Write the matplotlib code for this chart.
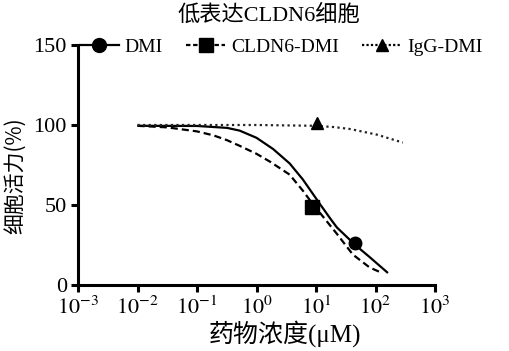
import numpy as np
import matplotlib
matplotlib.use("Agg")
import matplotlib.pyplot as plt

# 讀圖所得的數值 (濃度 µM, 細胞活力 %)
dmi_conc = [0.01, 0.1, 0.32, 0.52, 1.0, 1.9, 3.6, 6.0, 11.7, 17.4, 22.4, 45.7, 79.4, 162]
dmi_fit = [99.5, 99.4, 98.2, 96.5, 92.0, 85.0, 76.0, 66.0, 50.5, 41.5, 36.0, 25.0, 17.5, 7.5]

cldn6_conc = [0.01, 0.032, 0.1, 0.19, 0.32, 0.52, 1.0, 1.7, 3.6, 6.0, 7.9, 11.7, 22.4, 41.7, 79.4, 129]
cldn6_fit = [99.5, 98.5, 96.0, 93.5, 90.5, 87.0, 82.0, 77.0, 69.0, 59.0, 53.0, 45.0, 32.0, 19.0, 11.0, 7.5]

igg_conc = [0.01, 0.1, 1.0, 10.0, 20.0, 37.2, 105, 288]
igg_fit = [100, 100, 100, 99.5, 98.7, 97.5, 94.0, 89.0]

# 實測點
dmi_pt = ([45.7], [26])
cldn6_pt = ([8.5], [49])
igg_pt = ([10.5], [101])

xticks = [1e-3, 1e-2, 1e-1, 1e0, 1e1, 1e2, 1e3]
xtick_labels = ["$10^{-3}$", "$10^{-2}$", "$10^{-1}$", "$10^{0}$", "$10^{1}$", "$10^{2}$", "$10^{3}$"]
yticks = [0, 50, 100, 150]

plt.rcParams["font.family"] = ["Liberation Serif", "Noto Sans CJK SC"]
plt.rcParams["mathtext.fontset"] = "stix"

fig = plt.figure(figsize=(5.1, 3.51), dpi=100)
ax = fig.add_axes([78 / 510, 66 / 351, 357 / 510, 240 / 351])

ax.plot(dmi_conc, dmi_fit, color="black", lw=1.6, solid_capstyle="butt")
ax.plot(cldn6_conc, cldn6_fit, color="black", lw=1.6, linestyle=(0, (3.2, 1.8)))
ax.plot(igg_conc, igg_fit, color="#222222", lw=1.6, linestyle=(0, (1, 1.5)))

ax.plot(*dmi_pt, "o", color="black", ms=9, clip_on=False)
ax.plot(*cldn6_pt, "s", color="black", ms=10, clip_on=False)
ax.plot(*igg_pt, "^", color="black", ms=9, clip_on=False)

# 圖例
h1, = ax.plot([], [], color="black", lw=1.6, marker="o", ms=10)
h2, = ax.plot([], [], color="black", lw=1.6, linestyle=(0, (2, 1.2)), marker="s", ms=10)
h3, = ax.plot([], [], color="black", lw=1.6, linestyle=(0, (1, 1)), marker="^", ms=8)
fig.legend([h1, h2, h3], ["DMI", "CLDN6-DMI", "IgG-DMI"], ncol=3,
           loc="center left", bbox_to_anchor=(80 / 510, 1 - 47 / 351),
           frameon=False, fontsize=14, handlelength=2.0, handletextpad=0.3,
           columnspacing=1.2, borderaxespad=0, borderpad=0)

ax.set_xscale("log")
ax.set_xlim(1e-3, 1e3)
ax.set_ylim(0, 150)
ax.set_xticks(xticks)
ax.set_xticklabels(xtick_labels)
ax.minorticks_off()
ax.set_yticks(yticks)

for s in ["top", "right"]:
    ax.spines[s].set_visible(False)
for s in ["left", "bottom"]:
    ax.spines[s].set_linewidth(2.2)
ax.tick_params(axis="both", width=2.2, length=5, labelsize=16, direction="out", pad=3)

ax.set_xlabel("药物浓度(μM)", fontsize=18, labelpad=1)
ax.xaxis.set_label_coords(0.58, -0.145)
ax.set_ylabel("细胞活力(%)", fontsize=15, family=["Noto Sans CJK SC"], labelpad=2)
ax.yaxis.set_label_coords(-0.145, 0.455)
fig.text(269 / 510, 1 - 15 / 351, "低表达CLDN6细胞", ha="center", va="center", fontsize=16)

fig.savefig("out.png", dpi=100)
